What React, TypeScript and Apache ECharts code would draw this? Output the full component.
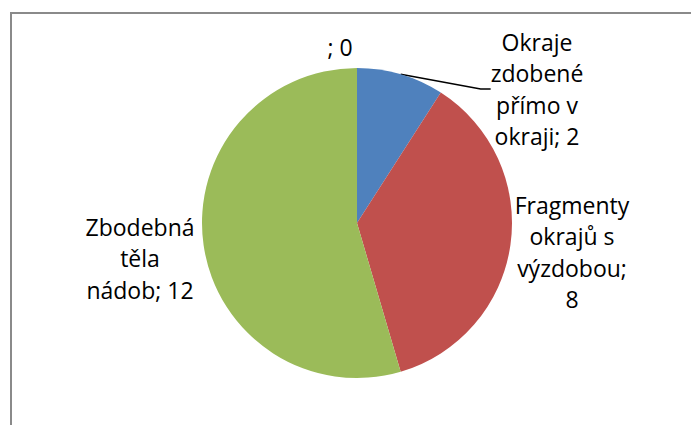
import React, { useEffect, useRef } from "react";
import * as echarts from "echarts";

const categories = ["", "Okraje\nzdobené\npřímo v\nokraji", "Fragmenty\nokrajů s\nvýzdobou;", "Zbodebná\ntěla\nnádob"];
const values = [0, 2, 8, 12];
const separators = ["; ", "; ", "\n", "; "];
const colors = ["#4F81BD", "#4F81BD", "#C0504D", "#9BBB59"];
const labelCenters: [number, number][] = [
  [340, 47],
  [537, 89],
  [572, 252],
  [140, 258],
];
const showLine = [false, true, false, false];

export default function App() {
  const ref = useRef<HTMLDivElement>(null);
  useEffect(() => {
    if (!ref.current) return;
    const chart = echarts.init(ref.current, null, { renderer: "svg" });
    chart.setOption({
      animation: false,
      backgroundColor: "#ffffff",
      graphic: [
        {
          type: "rect",
          shape: { x: 11, y: 13, width: 720, height: 500 },
          style: { fill: "none", stroke: "#8a8a8a", lineWidth: 2 },
          silent: true,
        },
      ],
      series: [
        {
          type: "pie",
          center: [357, 223],
          radius: 155,
          startAngle: 90,
          clockwise: true,
          avoidLabelOverlap: false,
          data: categories.map((name, i) => ({
            name,
            value: values[i],
            itemStyle: { color: colors[i] },
            labelLine: { show: showLine[i] },
          })),
          label: {
            show: true,
            position: "outside",
            formatter: (p: any) => {
              const sep = separators[p.dataIndex];
              return p.name + sep + p.value;
            },
            fontFamily: "Open Sans",
            fontSize: 23,
            lineHeight: 31.5,
            color: "#000000",
            align: "center",
          },
          labelLine: {
            show: true,
            length: 10,
            length2: 10,
            lineStyle: { color: "#000000", width: 1.5 },
          },
          labelLayout: (params: any) => {
            const c = labelCenters[params.dataIndex];
            return {
              x: c[0],
              y: c[1],
              align: "center",
              verticalAlign: "middle",
            };
          },
          emphasis: { disabled: true },
        },
      ],
    });
    return () => chart.dispose();
  }, []);
  return (
    <div
      ref={ref}
      style={{ position: "fixed", left: 0, top: 0, width: 691, height: 425 }}
    />
  );
}
